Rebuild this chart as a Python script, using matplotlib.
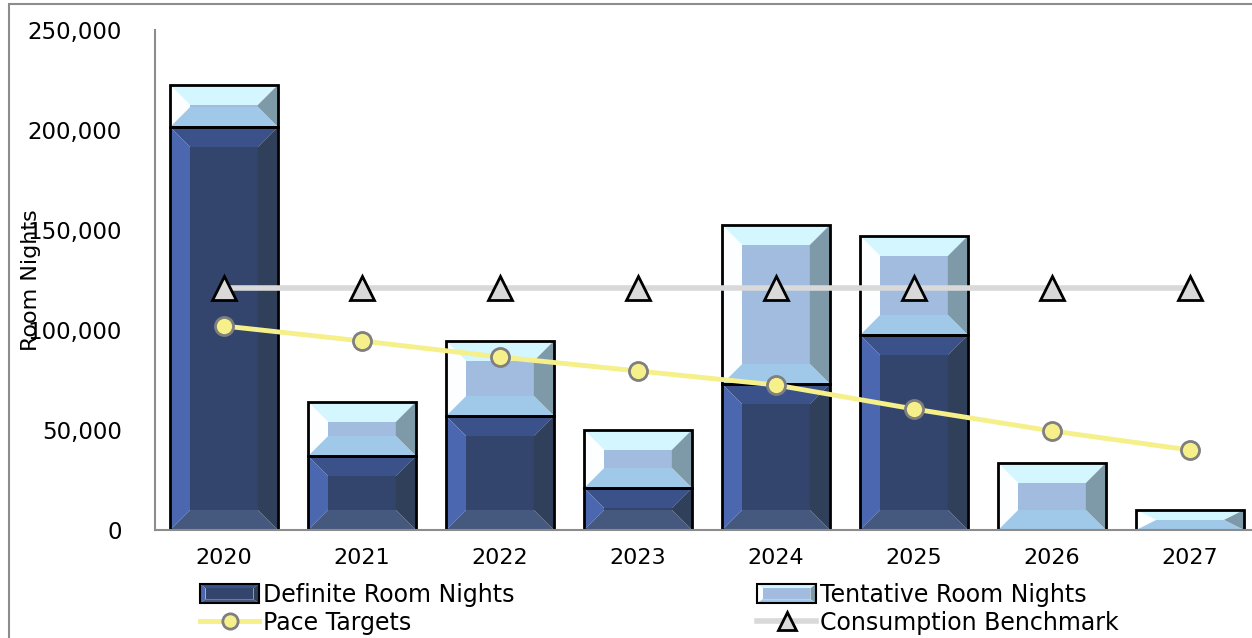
import matplotlib
matplotlib.use("Agg")
import matplotlib.pyplot as plt
from matplotlib.patches import Polygon, Rectangle, Patch
from matplotlib.lines import Line2D
from matplotlib.legend_handler import HandlerBase
from matplotlib import font_manager

years = ["2020", "2021", "2022", "2023", "2024", "2025", "2026", "2027"]
definite = [201500, 37000, 57000, 21000, 73000, 97500, 0, 0]
tentative = [21000, 27000, 37500, 29000, 79500, 49500, 33500, 10000]
pace = [102000, 94500, 86500, 79500, 72500, 60500, 49500, 40000]
benchmark = [121000] * 8

# bevel colours: top, left, centre, right, bottom
def_cols = ["#3a5189", "#4a67b0", "#33456c", "#303f5a", "#45597f"]
ten_cols = ["#d4f6fe", "#fdfeff", "#a2bce0", "#7e9aa8", "#a0c8e8"]

names = [f.name for f in font_manager.fontManager.ttflist]
legend_font = "Liberation Sans Narrow" if "Liberation Sans Narrow" in names else "DejaVu Sans"

W, H = 1252, 638
fig = plt.figure(figsize=(W / 100, H / 100), dpi=100)
ax = fig.add_axes([155 / W, 108 / H, 1104 / W, 500 / H])
ax.set_xlim(-0.5, len(years) - 0.5)
ax.set_ylim(0, 250000)

bar_w = 0.78
bev_px = 20
bx0 = bev_px / 138.0
by0 = bev_px * 250000 / 500.0


def bevel_polys(x0, y0, x1, y1, bx, by):
    return [
        [(x0, y1), (x1, y1), (x1 - bx, y1 - by), (x0 + bx, y1 - by)],
        [(x0, y0), (x0, y1), (x0 + bx, y1 - by), (x0 + bx, y0 + by)],
        [(x0 + bx, y0 + by), (x0 + bx, y1 - by), (x1 - bx, y1 - by), (x1 - bx, y0 + by)],
        [(x1, y0), (x1, y1), (x1 - bx, y1 - by), (x1 - bx, y0 + by)],
        [(x0, y0), (x1, y0), (x1 - bx, y0 + by), (x0 + bx, y0 + by)],
    ]


def bevel_bar(x, bottom, height, cols):
    if height <= 0:
        return
    x0, x1 = x - bar_w / 2, x + bar_w / 2
    y0, y1 = bottom, bottom + height
    bx = min(bx0, bar_w / 2)
    by = min(by0, height / 2)
    for p, c in zip(bevel_polys(x0, y0, x1, y1, bx, by), cols):
        ax.add_patch(Polygon(p, closed=True, facecolor=c, edgecolor="none", zorder=2))
    ax.add_patch(Rectangle((x0, y0), bar_w, height, facecolor="none",
                           edgecolor="black", linewidth=2, zorder=2.5))


class BevelHandler(HandlerBase):
    def __init__(self, cols):
        super().__init__()
        self.cols = cols

    def create_artists(self, legend, orig_handle, xdescent, ydescent, width,
                       height, fontsize, trans):
        x0, y0 = -xdescent, -ydescent - 1
        x1, y1 = x0 + width, y0 + height + 2
        b = 4
        arts = []
        for p, c in zip(bevel_polys(x0, y0, x1, y1, b, 3), self.cols):
            arts.append(Polygon(p, closed=True, facecolor=c, edgecolor="none",
                                transform=trans))
        arts.append(Rectangle((x0, y0), x1 - x0, y1 - y0, facecolor="none",
                              edgecolor="black", linewidth=1.5, transform=trans))
        return arts


for i in range(len(years)):
    bevel_bar(i, 0, definite[i], def_cols)
    bevel_bar(i, definite[i], tentative[i], ten_cols)

xs = list(range(len(years)))
ax.plot(xs, benchmark, color="#d9d9d9", linewidth=4, marker="^", markersize=17,
        markerfacecolor="#d9d9d9", markeredgecolor="black", markeredgewidth=2,
        zorder=3, clip_on=False)
ax.plot(xs, pace, color="#f5f08a", linewidth=3.5, marker="o", markersize=13,
        markerfacecolor="#f5f08a", markeredgecolor="#7f7f7f", markeredgewidth=2,
        zorder=4, clip_on=False)

for s in ["top", "right"]:
    ax.spines[s].set_visible(False)
for s in ["left", "bottom"]:
    ax.spines[s].set_color("#8c8c8c")
    ax.spines[s].set_linewidth(1.5)

ax.set_xticks(xs)
ax.set_xticklabels(years, fontsize=16)
ax.set_yticks(range(0, 250001, 50000))
ax.set_yticklabels([f"{v:,}" for v in range(0, 250001, 50000)], fontsize=16.5)
ax.tick_params(axis="x", length=0, pad=13)
ax.tick_params(axis="y", length=0, pad=24)

fig.text(31 / W, 1 - 280 / H, "Room Nights", rotation=90, fontsize=16,
         ha="center", va="center")

# figure frame (left and top edges visible)
fig.add_artist(Rectangle((8.5 / W, -0.1), 1.2, 1.1 - 4.5 / H,
                         transform=fig.transFigure, facecolor="none",
                         edgecolor="#8c8c8c", linewidth=1.5))

h_def = Patch(label="def")
h_ten = Patch(label="ten")
h_pace = Line2D([], [], color="#f5f08a", linewidth=3.5, marker="o", markersize=11,
                markerfacecolor="#f5f08a", markeredgecolor="#7f7f7f", markeredgewidth=2)
h_bench = Line2D([], [], color="#d9d9d9", linewidth=4, marker="^", markersize=13,
                 markerfacecolor="#d9d9d9", markeredgecolor="black", markeredgewidth=2)
hmap = {h_def: BevelHandler(def_cols), h_ten: BevelHandler(ten_cols)}

lkw = dict(frameon=False, handlelength=2.5, handletextpad=0.15,
           labelspacing=0.15, borderpad=0, borderaxespad=0,
           prop={"family": legend_font, "size": 17}, handler_map=hmap)
fig.legend([h_def, h_pace], ["Definite Room Nights", "Pace Targets"],
           loc="upper left", bbox_to_anchor=(200 / W, 1 - 583 / H), **lkw)
fig.legend([h_ten, h_bench], ["Tentative Room Nights", "Consumption Benchmark"],
           loc="upper left", bbox_to_anchor=(757 / W, 1 - 583 / H), **lkw)

fig.savefig("out.png", dpi=100)
